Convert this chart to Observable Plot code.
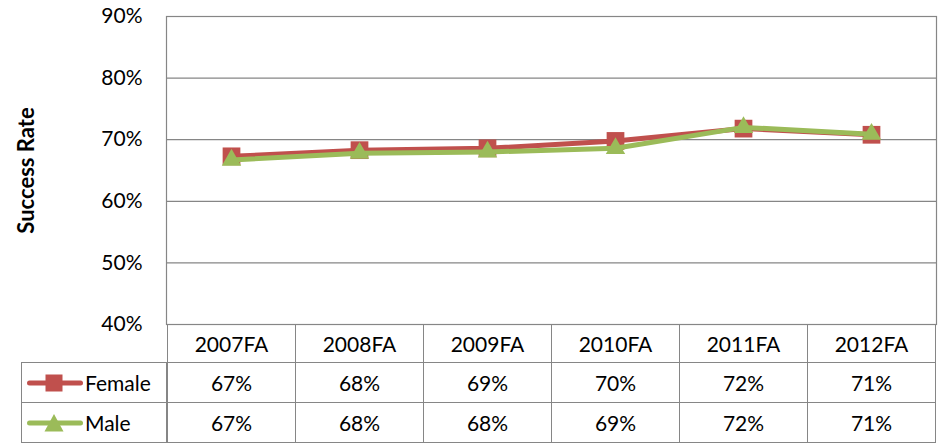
<!DOCTYPE html>
<html><head><meta charset="utf-8">
<script src="https://cdn.jsdelivr.net/npm/d3@7"></script>
<script src="https://cdn.jsdelivr.net/npm/@observablehq/plot@0.6"></script>
<style>
body{margin:0;background:#fff;font-family:Lato, "Open Sans", sans-serif;}
#wrap{position:relative;width:941px;height:443px;overflow:hidden;}
#wrap svg{display:block;}
.cell{position:absolute;box-sizing:border-box;border:1px solid #868686;display:flex;align-items:center;justify-content:center;font-size:21px;color:#000;background:transparent;}
.leg{justify-content:flex-start;padding-left:5px;}
.leg svg{margin-right:2px;}
</style></head>
<body><div id="wrap"></div>
<script>
const categories = ["2007FA","2008FA","2009FA","2010FA","2011FA","2012FA"];
const female = [67.3, 68.3, 68.6, 69.8, 71.8, 70.8];
const male = [66.7, 67.8, 68.0, 68.6, 72.0, 70.9];
const seriesNames = ["Female","Male"];
const seriesColors = ["#C0504D","#9BBB59"];
const yTicks = [40,50,60,70,80,90];
const yTitle = "Success Rate";

const femaleData = categories.map((c,i)=>({cat:c, v:female[i]}));
const maleData = categories.map((c,i)=>({cat:c, v:male[i]}));
const pct = d => d + "%";

const chart = Plot.plot({
  width: 941, height: 325,
  marginLeft: 166, marginRight: 5, marginTop: 16, marginBottom: 1,
  style: {fontFamily: "Lato, 'Open Sans', sans-serif", fontSize: "21px", color: "#000", background: "#fff", overflow: "visible"},
  x: {type: "point", domain: categories, padding: 0.5, axis: null},
  y: {domain: [40, 90], axis: null},
  marks: [
    Plot.gridY(yTicks, {stroke: "#868686", strokeOpacity: 1, strokeWidth: 1.2}),
    Plot.frame({stroke: "#868686", strokeWidth: 1.2}),
    Plot.axisY(yTicks, {tickSize: 0, tickPadding: 24, tickFormat: pct, label: null, fontSize: 21, fill: "#000"}),
    Plot.text([yTitle], {frameAnchor: "left", textAnchor: "middle", dx: -140, rotate: -90, fontWeight: "bold", fontSize: 22, fill: "#000"}),
    Plot.line(femaleData, {x: "cat", y: "v", stroke: seriesColors[0], strokeWidth: 5}),
    Plot.dot(femaleData, {x: "cat", y: "v", symbol: "square", r: 10, fill: seriesColors[0], stroke: "none"}),
    Plot.line(maleData, {x: "cat", y: "v", stroke: seriesColors[1], strokeWidth: 5}),
    Plot.dot(maleData, {x: "cat", y: "v", symbol: "triangle", r: 7.2, fill: seriesColors[1], stroke: "none"})
  ]
});
const wrap = document.getElementById("wrap");
wrap.appendChild(chart);

// data table under the plot, aligned with the x scale
const xs = chart.scale("x");
const step = xs.step;
const rows = [
  {top: 324, bottom: 362, header: true},
  {top: 362, bottom: 402, name: seriesNames[0], vals: female, color: seriesColors[0], sym: "square"},
  {top: 402, bottom: 442, name: seriesNames[1], vals: male, color: seriesColors[1], sym: "triangle"}
];
function addCell(x0, x1, y0, y1, html, cls) {
  const d = document.createElement("div");
  d.className = "cell" + (cls ? " " + cls : "");
  d.style.left = x0 + "px"; d.style.top = y0 + "px";
  d.style.width = (x1 - x0 + 1) + "px"; d.style.height = (y1 - y0 + 1) + "px";
  d.innerHTML = html;
  wrap.appendChild(d);
}
function legendKey(color, sym) {
  const marker = sym === "square"
    ? `<rect x="18.5" y="1.5" width="17" height="17" fill="${color}"/>`
    : `<path d="M27,1 L36.5,18.5 L17.5,18.5 Z" fill="${color}"/>`;
  return `<svg width="56" height="20"><line x1="2.5" y1="10" x2="53.5" y2="10" stroke="${color}" stroke-width="5" stroke-linecap="round"/>${marker}</svg>`;
}
const fmt = v => Math.round(v) + "%";
for (const r of rows) {
  if (!r.header) addCell(21, 166, r.top, r.bottom, legendKey(r.color, r.sym) + `<span>${r.name}</span>`, "leg");
  categories.forEach((c, i) => {
    const cx = xs.apply(c);
    const x0 = Math.round(cx - step / 2), x1 = Math.round(cx + step / 2);
    addCell(x0, x1, r.top, r.bottom, r.header ? c : fmt(r.vals[i]));
  });
}
</script></body></html>
